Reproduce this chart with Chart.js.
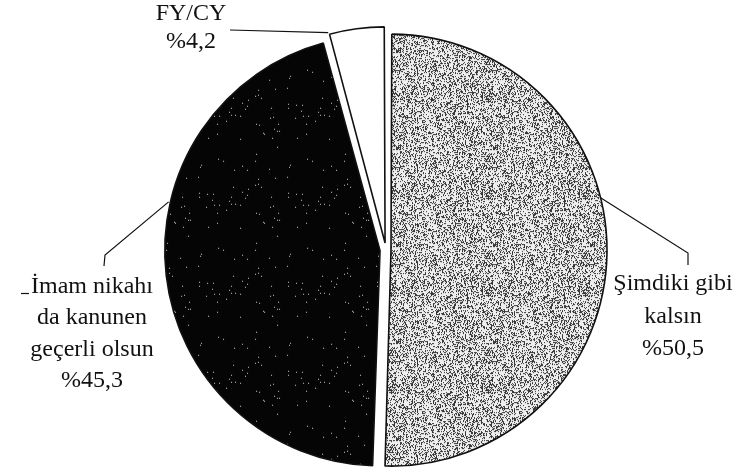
<!DOCTYPE html>
<html lang="tr">
<head>
<meta charset="UTF-8">
<title>Pie</title>
<style>
  html, body { margin: 0; padding: 0; background: #fff; }
  #wrap { width: 742px; height: 471px; }
</style>
</head>
<body>
<div id="wrap"><canvas id="myChart"></canvas></div>

<script src="https://cdn.jsdelivr.net/npm/chart.js"></script>
<script>
  // veriler
  const categories = [["Şimdiki gibi", "kalsın"], ["İmam nikahı", "da kanunen", "geçerli olsun"], ["FY/CY"]];
  const shares = [50.5, 45.3, 4.2];

  // benekli doku (deterministik)
  const makePattern = (size, darkProb, dark, light, seed) => {
    const c = document.createElement("canvas");
    c.width = size; c.height = size;
    const g = c.getContext("2d");
    const img = g.createImageData(size, size);
    let s = seed;
    for (let i = 0; i < size * size; i++) {
      s = (s * 1103515245 + 12345) % 2147483648;
      const v = (s / 2147483648) < darkProb ? dark : light;
      img.data[i * 4] = v; img.data[i * 4 + 1] = v; img.data[i * 4 + 2] = v; img.data[i * 4 + 3] = 255;
    }
    g.putImageData(img, 0, 0);
    return g.createPattern(c, "repeat");
  };

  const ctx = document.getElementById("myChart").getContext("2d");
  const greyFill = makePattern(97, 0.32, 55, 238, 7);
  const blackFill = makePattern(89, 0.994, 5, 210, 11);

  // etiket yerleri
  const labelSpots = [
    { cx: 673, base: 290, lh: 32.5, anchorDeg: 76, path: [[688, 253], [688, 265]] },
    { cx: 92, base: 293, lh: 31.3, anchorDeg: 283, path: [[105, 255], [104, 266]] },
    { cx: 191, base: 20, lh: 28, anchorDeg: null, path: [[230, 30]] }
  ];

  const pct = v => "%" + v.toFixed(1).replace(".", ",");

  const labelPlugin = {
    id: "pieLabels",
    afterDraw(chart) {
      const c = chart.ctx;
      const arcs = chart.getDatasetMeta(0).data;
      c.save();
      c.strokeStyle = "#111";
      c.lineWidth = 1.2;
      c.fillStyle = "#111";
      c.font = "24px 'Liberation Serif'";
      c.textAlign = "center";
      c.textBaseline = "alphabetic";
      labelSpots.forEach((spot, i) => {
        const arc = arcs[i];
        const off = (arc.options.offset || 0) / 4;
        const mid = (arc.startAngle + arc.endAngle) / 2;
        const ox = arc.x + Math.cos(mid) * off;
        const oy = arc.y + Math.sin(mid) * off;
        const a = spot.anchorDeg === null ? arc.startAngle : spot.anchorDeg * Math.PI / 180 - Math.PI / 2;
        const r = arc.outerRadius + off;
        c.beginPath();
        c.moveTo(ox + Math.cos(a) * r, oy + Math.sin(a) * r);
        spot.path.forEach(p => c.lineTo(p[0], p[1]));
        c.stroke();
        const lines = categories[i].concat([pct(shares[i])]);
        lines.forEach((t, k) => c.fillText(t, spot.cx, spot.base + k * spot.lh));
      });
      // tarama izi
      c.beginPath();
      c.moveTo(21, 293.5); c.lineTo(29, 293.5);
      c.stroke();
      c.restore();
    }
  };

  new Chart(ctx, {
    type: "pie",
    data: {
      labels: categories.map(l => l.join(" ")),
      datasets: [{
        data: shares,
        backgroundColor: [greyFill, blackFill, "#ffffff"],
        borderColor: "#111",
        borderWidth: 1.6,
        offset: [20, 24, 28],
        radius: 211
      }]
    },
    options: {
      responsive: true,
      maintainAspectRatio: false,
      animation: false,
      layout: { padding: { left: 30, top: 29, right: 0, bottom: 0 } },
      plugins: {
        legend: { display: false },
        tooltip: { enabled: false }
      }
    },
    plugins: [labelPlugin]
  });
</script>
</body>
</html>
